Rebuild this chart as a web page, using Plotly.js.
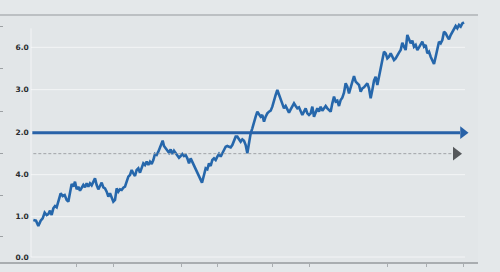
<!DOCTYPE html>
<html><head><meta charset="utf-8">
<script src="https://cdn.plot.ly/plotly-3.0.1.min.js"></script>
<style>html,body{margin:0;padding:0;background:#e4e8ea;}#chart{width:500px;height:272px;}</style>
</head><body><div id="chart"></div>
<script>
// time index
const t = [0,8,15,22,28,34,40,45,50,55,60,65,70,76,82,88,94,100,105,110,115,120,125,130,135,140,145,150,155,160,165,170,175,180,185,190,195,200,205,210,215,220,225,230,235,240,245,250,255,260,265,270,275,280,285,290,295,300,305,310,315,320,325,330,335,340,345,350,355,360,365,370,375,380,385,388,392,397,402,407,412,417,422,427,432,437,442,447,452,457,462,467,472,477,485,492,500,506,512,517,522,527,532,537,542,547,552,557,562,567,572,577,582,587,592,597,602,607,612,617,622,627,632,637,642,647,652,657,662,667,672,677,682,687,692,697,702,707,712,717,722,727,732,737,742,747,752,757,762,767,772,777,782,787,792,797,802,807,812,817,822,827,832,837,842,847,852,857,862,867,872,877,882,887,892,897,902,907,912,917,922,927,932,937,942,947,952,957,962,967,972,977,982,987,992,997,1002,1007,1012,1017,1022,1027,1032,1037,1042,1047,1052,1057,1062,1067,1072,1077,1082,1087,1092,1097,1102,1107,1112,1117,1122,1127,1132,1137,1142,1147,1152,1157,1162,1167,1172,1177,1182,1187,1192,1197,1202,1207,1212,1217,1222,1227,1232,1237,1242,1247,1252,1257,1262,1267,1272,1277,1282,1287,1292];
const series = [11.1,10.9,9.3,10.9,11.6,13.3,12.6,12.9,13.9,12.6,14.6,15.3,14.9,17.1,19.1,18.3,18.6,17.1,16.6,19.3,21.9,21.1,22.6,20.3,21.1,19.9,20.6,21.6,20.9,22.1,21.1,22.1,21.5,22.6,23.6,21.6,20.3,21.3,22.3,20.9,20.6,19.6,18.1,19.1,17.9,16.6,17.1,20.6,19.6,20.3,20.1,20.8,21.1,22.6,24.1,24.6,26.1,25.1,24.3,26.1,26.6,25.3,26.6,28.1,27.6,28.6,27.6,28.6,27.9,29.1,30.9,30.6,31.6,33.1,34.1,34.9,33.3,32.6,32.1,31.3,32.3,30.9,31.9,31.1,30.6,29.8,30.3,30.9,30.3,30.6,29.6,28.1,29.6,28.6,26.6,25.1,23.9,22.3,24.6,26.6,26.3,28.1,27.3,29.1,29.6,29.1,30.1,30.9,30.1,31.3,32.1,33.1,33.3,33.1,32.9,33.6,35.1,36.1,36.1,35.1,34.6,35.3,34.9,33.6,31.1,34.1,37.1,38.6,40.6,42.1,43.6,42.6,42.1,42.6,40.6,42.1,43.1,43.6,43.9,45.1,47.1,48.6,50.1,48.6,47.1,45.6,44.6,45.3,44.1,43.3,44.3,45.3,46.1,45.3,44.6,44.9,43.9,42.6,43.6,44.6,43.1,42.6,43.1,45.1,42.1,43.6,44.6,43.6,45.1,43.9,44.6,45.3,44.6,44.1,43.6,46.1,48.1,46.6,46.9,45.3,47.1,47.8,49.3,52.1,51.1,49.1,51.1,53.1,54.3,52.6,52.1,51.6,49.6,50.6,50.9,51.6,52.1,50.6,47.6,50.1,52.9,54.1,51.6,54.1,56.6,59.1,61.6,61.1,59.6,60.1,61.1,60.1,59.1,59.6,60.6,61.3,62.1,64.3,63.1,62.1,66.6,65.3,64.1,64.9,63.1,63.6,62.1,62.9,63.6,64.6,63.1,63.6,61.1,61.6,60.1,59.1,57.9,60.1,62.1,64.6,64.1,65.1,67.6,67.1,66.1,65.3,66.6,67.6,68.6,69.3,68.6,69.6,69.1,70.1,70.4];
const yTickVals = [0, 12.1, 24.7, 37.3, 50.2, 62.9];
const yTickText = ["0.0","1.0","4.0","2.0","3.0","6.0"];
const yMinorVals = [6.05, 18.4, 31.0, 43.75, 56.55, 69.2];
const xTickVals = [128, 240, 443, 552, 717, 828, 1063, 1178, 1290];
const refLevel = 37.3;     // solid blue arrow level
const guideLevel = 31.0;   // dashed grey arrow level
const refStart = -3, refEnd = 1280, refHead = 1289;
const guideStart = 0, guideEnd = 1255, guideHead = 1268;

const shapes = [];
yTickVals.forEach(v => shapes.push({type:'line', xref:'x', yref:'y', x0:-7, x1:1295, y0:v, y1:v,
  line:{color:'rgba(255,255,255,0.6)', width:1}, layer:'below'}));
shapes.push({type:'line', xref:'x', yref:'y', x0:-7, x1:-7, y0:0, y1:68.6, line:{color:'rgba(255,255,255,0.6)', width:1}, layer:'below'});
shapes.push({type:'line', xref:'paper', yref:'paper', x0:0, x1:1, y0:1, y1:1, line:{color:'#bcc0c3', width:2}});

const traces = [
  {x:t, y:series, type:'scatter', mode:'lines', line:{color:'#2667ab', width:2.6}, hoverinfo:'skip'},
  {x:[refStart, refEnd], y:[refLevel, refLevel], type:'scatter', mode:'lines', line:{color:'#2862a8', width:3}, hoverinfo:'skip'},
  {x:[refHead], y:[refLevel], type:'scatter', mode:'markers', marker:{symbol:'triangle-right', size:11, color:'#2862a8'}, hoverinfo:'skip'},
  {x:[guideStart, guideEnd], y:[guideLevel, guideLevel], type:'scatter', mode:'lines', line:{color:'#a0a3a6', width:1, dash:'3px,2px'}, hoverinfo:'skip'},
  {x:[guideHead], y:[guideLevel], type:'scatter', mode:'markers', marker:{symbol:'triangle-right', size:12, color:'#55585b'}, hoverinfo:'skip'}
];

const layout = {
  width:500, height:272,
  margin:{l:0, r:22, t:15, b:10},
  paper_bgcolor:'#e4e8ea', plot_bgcolor:'#e2e6e8',
  showlegend:false,
  xaxis:{range:[-100,1334], showgrid:false, zeroline:false, showline:true, linecolor:'#a9adb0', linewidth:1.5,
    tickmode:'array', tickvals:xTickVals, ticks:'outside', ticklen:3, tickcolor:'#a9adb0', showticklabels:false, fixedrange:true},
  yaxis:{range:[-1.5,72.6], showgrid:false, zeroline:false, showline:true, linecolor:'#d0d4d6', linewidth:1,
    tickmode:'array', tickvals:yTickVals, ticktext:yTickText, ticks:'', ticklabelposition:'inside', ticklabelstandoff:14,
    tickfont:{family:'DejaVu Sans', size:7.5, color:'#2a2c2e', weight:'bold'},
    minor:{tickvals:yMinorVals, ticks:'inside', ticklen:3, tickcolor:'#9da1a4', showgrid:false}, fixedrange:true},
  shapes:shapes
};
Plotly.newPlot('chart', traces, layout, {displayModeBar:false, staticPlot:true});
</script></body></html>
